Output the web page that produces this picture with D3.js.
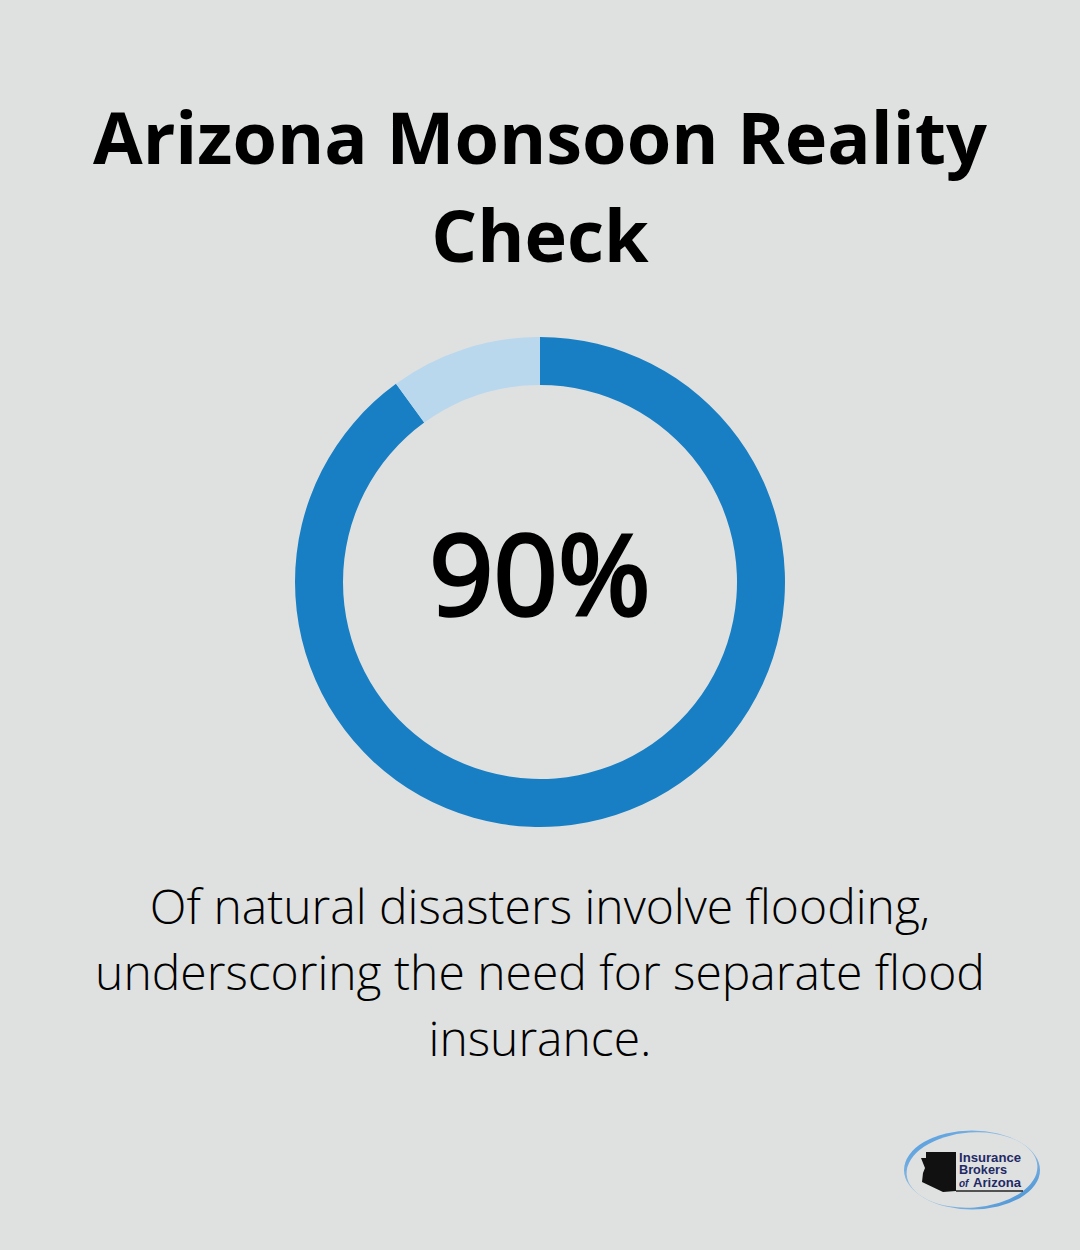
<!DOCTYPE html>
<html>
<head>
<meta charset="utf-8">
<script src="https://cdn.jsdelivr.net/npm/d3@7"></script>
<style>
  html, body { margin: 0; background: #dfe1e0; }
  svg { display: block; }
  text { font-family: "Open Sans", sans-serif; fill: #000; }
  .logo-line { font-family: "Liberation Sans", sans-serif; fill: #1f2a66; }
</style>
</head>
<body>
<div id="main"></div>
<script>
const titleLines = ["Arizona Monsoon Reality", "Check"];
const captionLines = [
  "Of natural disasters involve flooding,",
  "underscoring the need for separate flood",
  "insurance."
];
const slices = ["flooding", "other"];
const values = [90, 10];
const colors = ["#187fc4", "#b9d7ed"];
const label = "90%";
const logoLines = ["Insurance", "Brokers", "Arizona"];

const width = 1080,
  height = 1250;

const svg = d3
  .select("#main")
  .append("svg")
  .attr("width", width)
  .attr("height", height);

svg
  .selectAll(".title")
  .data(titleLines)
  .enter()
  .append("text")
  .attr("class", "title")
  .attr("x", width / 2)
  .attr("y", (_, i) => 164 + i * 98)
  .attr("text-anchor", "middle")
  .attr("font-size", 72)
  .attr("font-weight", 700)
  .text((d) => d);

const pie = d3.pie().sort(null);
const arc = d3.arc().innerRadius(197).outerRadius(245);

const ring = svg.append("g").attr("transform", "translate(540,582)");

ring
  .selectAll("path")
  .data(pie(values))
  .enter()
  .append("path")
  .attr("d", arc)
  .attr("fill", (_, i) => colors[i]);

// no medium weight installed, so thicken the regular one
ring
  .append("text")
  .attr("text-anchor", "middle")
  .attr("y", 33)
  .attr("font-size", 112.5)
  .attr("font-weight", 400)
  .attr("stroke", "#000")
  .attr("stroke-width", 3.4)
  .text(label);

svg
  .selectAll(".caption")
  .data(captionLines)
  .enter()
  .append("text")
  .attr("class", "caption")
  .attr("x", width / 2)
  .attr("y", (_, i) => 924 + i * 66)
  .attr("text-anchor", "middle")
  .attr("font-size", 48)
  .attr("font-weight", 300)
  .text((d) => d);

// logo
const defs = svg.append("defs");
const ringFade = defs
  .append("linearGradient")
  .attr("id", "logo-ring")
  .attr("x1", 0)
  .attr("y1", 0)
  .attr("x2", 1)
  .attr("y2", 1);
ringFade.append("stop").attr("offset", "0%").attr("stop-color", "#3f93dc");
ringFade.append("stop").attr("offset", "50%").attr("stop-color", "#a9c8e6");
ringFade.append("stop").attr("offset", "100%").attr("stop-color", "#2f86d2");

const logo = svg.append("g").attr("transform", "translate(972,1170)");

logo
  .append("ellipse")
  .attr("rx", 68)
  .attr("ry", 39.5)
  .attr("fill", "url(#logo-ring)");

logo
  .append("ellipse")
  .attr("rx", 65.5)
  .attr("ry", 37.5)
  .attr("transform", "rotate(-4)")
  .attr("fill", "#dfe1e0");

logo
  .append("path")
  .attr(
    "d",
    "M-46,-18 L-16,-18 L-16,21 L-29,22 L-50,12 L-49,3 L-47,-2 L-51,-12 L-46,-12 Z"
  )
  .attr("fill", "#111");

logo
  .append("line")
  .attr("x1", -16)
  .attr("x2", 51)
  .attr("y1", 21)
  .attr("y2", 21)
  .attr("stroke", "#222")
  .attr("stroke-width", 1.5);

// Narrow isn't installed, squeeze the glyphs to the logo's widths instead
logo
  .selectAll(".logo-line")
  .data(logoLines)
  .enter()
  .append("text")
  .attr("class", "logo-line")
  .attr("x", (_, i) => (i == 2 ? 1 : -13))
  .attr("y", (_, i) => -8 + i * 12.4)
  .attr("textLength", (_, i) => [62, 48, 48][i])
  .attr("lengthAdjust", "spacingAndGlyphs")
  .attr("font-size", 12.5)
  .attr("font-weight", 700)
  .text((d) => d);

logo
  .append("text")
  .attr("class", "logo-line")
  .attr("x", -13)
  .attr("y", 16.8)
  .attr("font-size", 10)
  .attr("font-style", "italic")
  .attr("font-weight", 700)
  .text("of");
</script>
</body>
</html>
